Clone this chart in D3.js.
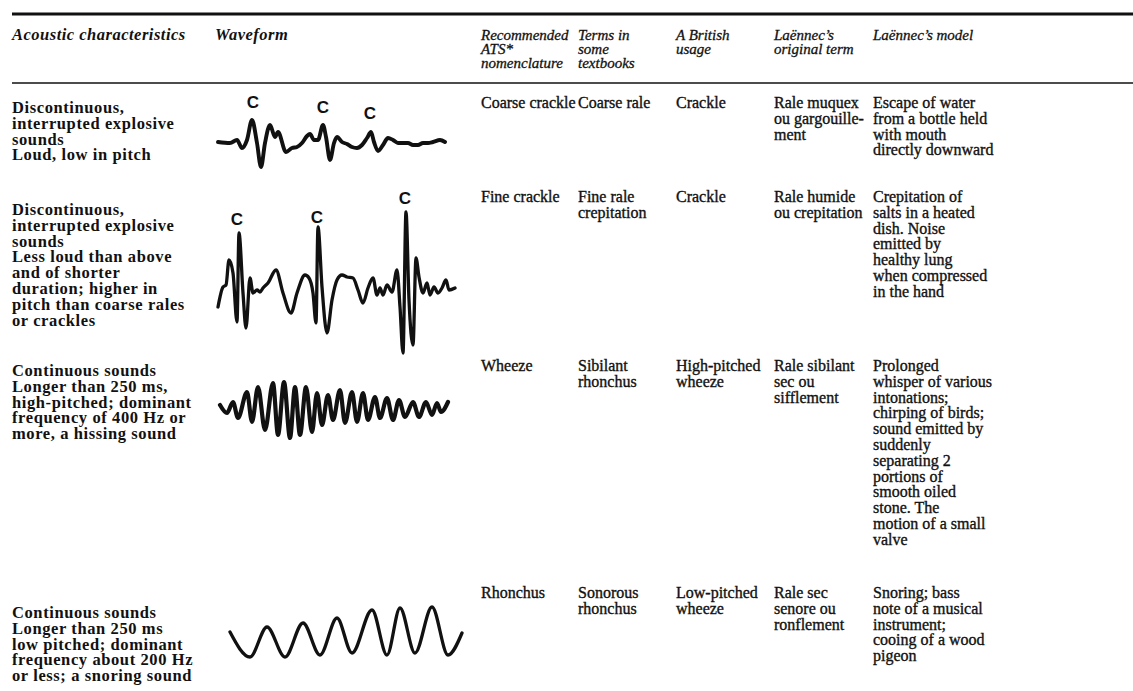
<!DOCTYPE html>
<html>
<head>
<meta charset="utf-8">
<script src="https://cdn.jsdelivr.net/npm/d3@7"></script>
<style>
  body{margin:0;background:#fff;}
  svg{display:block;}
</style>
</head>
<body>
<div class="canvas"></div>
<script>
// ---- table text ----
const headers=[
  ["Acoustic characteristics"],
  ["Waveform"],
  ["Recommended","ATS*","nomenclature"],
  ["Terms in","some","textbooks"],
  ["A British","usage"],
  ["La\u00ebnnec\u2019s","original term"],
  ["La\u00ebnnec\u2019s model"]
];
const acoustic=[
  ["Discontinuous,","interrupted explosive","sounds","Loud, low in pitch"],
  ["Discontinuous,","interrupted explosive","sounds","Less loud than above","and of shorter","duration; higher in","pitch than coarse rales","or crackles"],
  ["Continuous sounds","Longer than 250 ms,","high-pitched; dominant","frequency of 400 Hz or","more, a hissing sound"],
  ["Continuous sounds","Longer than 250 ms","low pitched; dominant","frequency about 200 Hz","or less; a snoring sound"]
];
const atsTerms=[["Coarse crackle"],["Fine crackle"],["Wheeze"],["Rhonchus"]];
const textbookTerms=[["Coarse rale"],["Fine rale","crepitation"],["Sibilant","rhonchus"],["Sonorous","rhonchus"]];
const britishUsage=[["Crackle"],["Crackle"],["High-pitched","wheeze"],["Low-pitched","wheeze"]];
const laennecTerm=[["Rale muquex","ou gargouille-","ment"],["Rale humide","ou crepitation"],["Rale sibilant","sec ou","sifflement"],["Rale sec","senore ou","ronflement"]];
const laennecModel=[
  ["Escape of water","from a bottle held","with mouth","directly downward"],
  ["Crepitation of","salts in a heated","dish. Noise","emitted by","healthy lung","when compressed","in the hand"],
  ["Prolonged","whisper of various","intonations;","chirping of birds;","sound emitted by","suddenly","separating 2","portions of","smooth oiled","stone. The","motion of a small","valve"],
  ["Snoring; bass","note of a musical","instrument;","cooing of a wood","pigeon"]
];

// ---- waveforms (time, amplitude) ----
const coarseT=[0,12,19,24,29,34,39,43,47,52,57,60,68,74,79,84,89,92,96,100,105,108,112,116,119,124,129,134,139,144,149,153,156,160,165,170,175,180,185,190,195,200,205,210,215,222,227];
const coarseA=[0,-1,2,-6,2,22,-1,-25,-1,17,5,10,-10,-6,-5,-1,6,8,2,2,17,5,-18,-1,5,0,-2,-5,-6,-3,4,10,0,-9,-3,4,2,-1,-1,-1,-3,-3,-1,-1,0,2,0];
const coarseCT=[35,105,152];
const coarseCA=[40,35,29];

const fineT=[0,5,8,11,15,19,21,25,28,32,35,39,42,45,50,58,65,73,79,87,91,95,98,100,104,109,114,119,124,129,135,140,145,150,155,159,162,165,169,174,179,182,185,188,191,195,198,201,205,209,212,216,220,224,228,231,237];
const fineA=[-17,3,5,30,17,-32,57,-3,-38,12,-3,0,-2,2,7,20,-3,-23,-3,15,12,-3,-33,63,3,-43,-10,10,15,13,12,0,-13,2,12,-5,2,-5,5,-2,20,-17,-63,78,-10,-55,32,13,-3,7,-5,3,-3,2,10,0,2];
const fineCT=[19,99,187];
const fineCA=[71,73,92];

const wheezeT=[0,7,13,18,27,32,38,45,53,58,64,70,75,80,86,92,97,102,108,113,120,125,132,137,143,148,155,160,167,173,179,185,193,199,206,212,217,221,228];
const wheezeA=[5,-3,8,-8,18,-12,23,-20,27,-25,28,-28,23,-25,23,-22,17,-15,15,-10,20,-13,18,-12,17,-10,13,-8,12,-10,10,-7,8,-7,8,-5,7,-2,8];

const rhonchusT=[0,20,37,55,73,90,107,122,142,157,170,185,202,218,232];
const rhonchusA=[0,-25,5,-25,9,-23,14,-21,22,-23,24,-21,25,-23,-1];

// ---- layout ----
const W=1133,H=691;
const colX=[12,215,481,578,676,774,873];
const lineH=15.8;
const rowLeftY=[113,215,376,618];
const rowRightY=[108,202,371,598];
const serif="'Liberation Serif','Times New Roman',serif";

const svg=d3.select('.canvas').append('svg')
  .attr('width',W).attr('height',H);

// rules
svg.append('line').attr('x1',12).attr('x2',W).attr('y1',14).attr('y2',14)
  .attr('stroke','#111').attr('stroke-width',3);
svg.append('line').attr('x1',12).attr('x2',W).attr('y1',83).attr('y2',83)
  .attr('stroke','#111').attr('stroke-width',1.5);

// multi-line text helper
const block=(g,lines,x,y,style)=>{
  const t=g.append('text').attr('x',x).attr('y',y)
    .attr('font-family',serif).attr('fill','#111')
    .attr('font-size',style.size).attr('font-weight',style.weight)
    .attr('font-style',style.italic?'italic':'normal')
    .attr('letter-spacing',style.ls||0)
    .attr('stroke','#111').attr('stroke-width',style.sw||0);
  lines.forEach((s,i)=>{
    t.append('tspan').attr('x',x).attr('y',y+i*(style.lh||lineH)).text(s);
  });
};

// header
const head=svg.append('g');
headers.forEach((lines,i)=>{
  if(i<2) block(head,lines,colX[i],40,{size:16.5,weight:'bold',italic:true,ls:0.5,lh:14});
  else block(head,lines,colX[i],40,{size:15,weight:'normal',italic:true,lh:14,sw:0.3});
});

// body rows
const body=svg.append('g');
const rightCols=[atsTerms,textbookTerms,britishUsage,laennecTerm,laennecModel];
acoustic.forEach((lines,r)=>{
  block(body,lines,colX[0],rowLeftY[r],{size:16.5,weight:'bold',ls:0.6});
  rightCols.forEach((col,c)=>{
    block(body,col[r],colX[c+2],rowRightY[r],{size:16,weight:'normal',sw:0.35});
  });
});

// waveforms
const waves=[
  {t:coarseT,a:coarseA,x0:218,base:142,w:3.9,ct:coarseCT,ca:coarseCA},
  {t:fineT,a:fineA,x0:218,base:290,w:3.3,ct:fineCT,ca:fineCA},
  {t:wheezeT,a:wheezeA,x0:220,base:410,w:4.2},
  {t:rhonchusT,a:rhonchusA,x0:230,base:632,w:3.3}
];
waves.forEach(wv=>{
  const x=d3.scaleLinear().domain([0,240]).range([wv.x0,wv.x0+240]);
  const y=d3.scaleLinear().domain([-100,100]).range([wv.base+100,wv.base-100]);
  const pts=wv.t.map((t,i)=>[t,wv.a[i]]);
  const line=d3.line().x(d=>x(d[0])).y(d=>y(d[1])).curve(d3.curveMonotoneX);
  svg.append('path').attr('d',line(pts))
    .attr('fill','none').attr('stroke','#111')
    .attr('stroke-width',wv.w)
    .attr('stroke-linejoin','round').attr('stroke-linecap','round');
  if(wv.ct){
    svg.selectAll(null).data(wv.ct).enter().append('text')
      .attr('x',d=>x(d)).attr('y',(d,i)=>y(wv.ca[i]))
      .attr('dy','0.36em').attr('text-anchor','middle')
      .attr('font-family',"'Liberation Sans',Arial,sans-serif")
      .attr('font-weight','bold').attr('font-size',17).attr('fill','#111')
      .text('C');
  }
});
</script>
</body>
</html>
